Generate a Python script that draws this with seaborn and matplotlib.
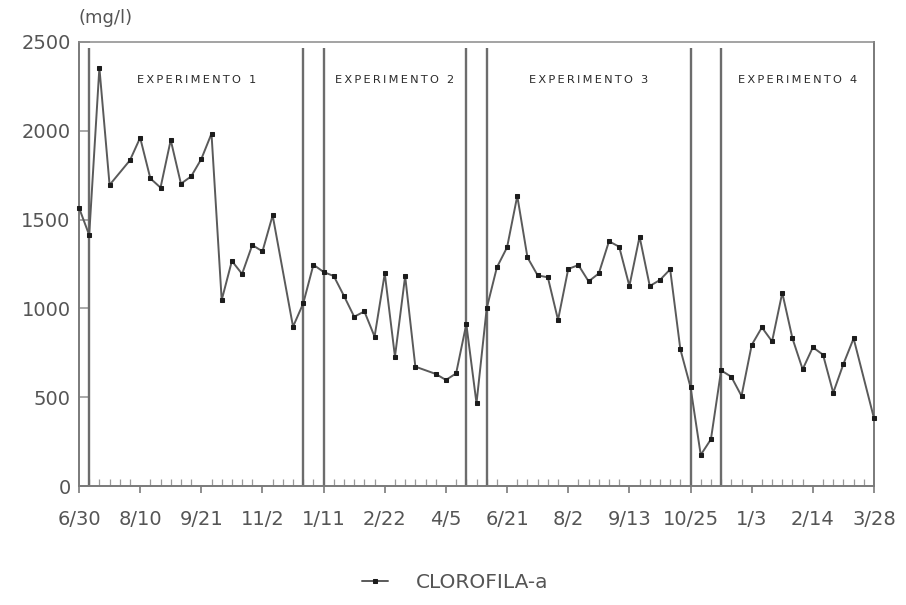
import matplotlib
matplotlib.use("Agg")
import matplotlib.pyplot as plt
import seaborn as sns
import pandas as pd
from matplotlib.ticker import FixedLocator, MultipleLocator

# Sampling week (compressed time axis, one unit per week) and chlorophyll-a (mg/l)
weeks = [0, 1, 2, 3, 5, 6, 7, 8, 9, 10, 11, 12, 13, 14, 15, 16, 17, 18, 19,
         21, 22, 23, 24, 25, 26, 27, 28, 29, 30, 31, 32, 33, 35, 36, 37, 38,
         39, 40, 41, 42, 43, 44, 45, 46, 47, 48, 49, 50, 51, 52, 53, 54, 55,
         56, 57, 58, 59, 60, 61, 62, 63, 64, 65, 66, 67, 68, 69, 70, 71, 72,
         73, 74, 75, 76, 78]
chlorophyll = [1567, 1413, 2355, 1695, 1834, 1961, 1732, 1680, 1948, 1702,
               1743, 1841, 1984, 1047, 1267, 1194, 1357, 1321, 1524,
               897, 1028, 1246, 1205, 1182, 1070, 953, 983, 841, 1197, 728,
               1182, 672, 631, 597, 634, 912,
               466, 1000, 1231, 1344, 1633, 1287, 1186, 1175, 935, 1222, 1244,
               1152, 1197, 1378, 1347, 1126, 1404,
               1126, 1160, 1220, 770, 556, 175, 263, 651, 615, 507, 794, 893,
               814, 1088, 831, 657, 781,
               739, 525, 687, 831, 381]

tick_weeks = list(range(0, 79, 6))
tick_labels = ["6/30", "8/10", "9/21", "11/2", "1/11", "2/22", "4/5",
               "6/21", "8/2", "9/13", "10/25", "1/3", "2/14", "3/28"]

# Start/end weeks of each experiment
boundaries = [1, 22, 24, 38, 40, 60, 63]
experiments = ["EXPERIMENTO 1", "EXPERIMENTO 2", "EXPERIMENTO 3", "EXPERIMENTO 4"]
experiment_centers = [11.5, 31, 50, 70.5]

sns.set_theme(style="white")
plt.rcParams["font.family"] = ["DejaVu Sans"]

TXT = "#555555"
AX = "#7a7a7a"

fig = plt.figure(figsize=(9.06, 6.05), dpi=100)
fig.patch.set_facecolor("white")
ax = fig.add_axes([79 / 906, 1 - 486 / 605, (874 - 79) / 906, (486 - 42) / 605])
ax.set_facecolor("white")

df = pd.DataFrame({"semana": weeks, "clorofila": chlorophyll})
sns.lineplot(data=df, x="semana", y="clorofila", ax=ax, color="#5a5a5a",
             linewidth=1.4, marker="s", markersize=3.2,
             markerfacecolor="#1c1c1c", markeredgecolor="#1c1c1c",
             label="CLOROFILA-a", legend=False, clip_on=False, zorder=3)

ax.vlines(boundaries, 0, 2465, color="#6c6c6c", linewidth=1.7, zorder=2)

for name, xc in zip(experiments, experiment_centers):
    spaced = "\u2009".join(name)
    ax.text(xc, 0.914, spaced, transform=ax.get_xaxis_transform(),
            ha="center", va="center", fontsize=8.2, color="#2a2a2a")

ax.set_xlim(0, 78)
ax.set_ylim(0, 2500)
ax.set_xlabel("")
ax.set_ylabel("")

ax.xaxis.set_major_locator(FixedLocator(tick_weeks))
ax.set_xticklabels(tick_labels)
ax.xaxis.set_minor_locator(MultipleLocator(1))
ax.yaxis.set_major_locator(MultipleLocator(500))

ax.tick_params(axis="x", which="major", direction="out", length=5, width=1.2,
               color=AX, pad=12, labelsize=14, labelcolor=TXT, bottom=True)
ax.tick_params(axis="x", which="minor", direction="in", length=5, width=0.9,
               color="#9a9a9a", bottom=True)
ax.tick_params(axis="y", which="major", direction="in", length=8, width=1.2,
               color="#9a9a9a", pad=6, labelsize=14, labelcolor=TXT, left=True)

for side in ["left", "right", "top", "bottom"]:
    ax.spines[side].set_visible(True)
    ax.spines[side].set_color(AX)
    ax.spines[side].set_linewidth(1.4)
ax.spines["top"].set_color("#8a8a8a")
ax.spines["top"].set_linewidth(1.1)

fig.text(78 / 906, 1 - 18 / 605, "(mg/l)", ha="left", va="center",
         fontsize=13, color=TXT)

handles, labels = ax.get_legend_handles_labels()
fig.legend(handles, labels, loc="center", bbox_to_anchor=(455 / 906, 1 - 583 / 605),
           frameon=False, fontsize=14.5, labelcolor=TXT, handlelength=1.3,
           handletextpad=1.4, markerscale=0.8)

fig.savefig("out.png", dpi=100, facecolor="white")
